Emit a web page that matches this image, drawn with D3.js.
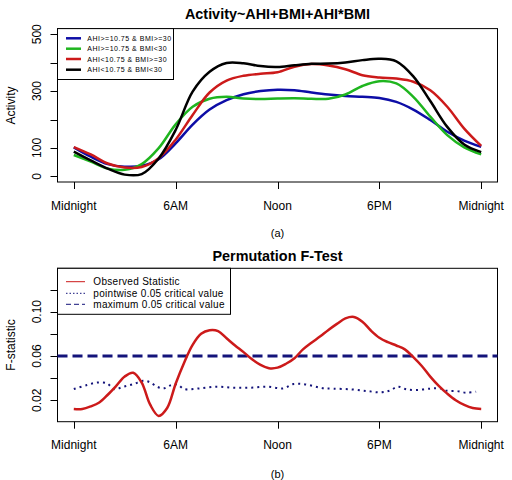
<!DOCTYPE html>
<html>
<head>
<meta charset="utf-8">
<script src="https://cdn.jsdelivr.net/npm/d3@7"></script>
<style>
html,body{margin:0;padding:0;background:#fff;}
svg{display:block;font-family:"Liberation Sans",Arial,sans-serif;}
</style>
</head>
<body>
<svg id="chart" width="512" height="480"></svg>
<script>
// ---------- DATA ----------
const hours = [0,1,2,3,4,5,6,7,8,9,10,11,12,13,14,15,16,17,18,19,20,21,22,23,24];
const xTickHours = [0,6,12,18,24];
const xTickLabels = ["Midnight","6AM","Noon","6PM","Midnight"];

const seriesNames = ["AHI>=10.75 & BMI>=30","AHI>=10.75 & BMI<30","AHI<10.75 & BMI>=30","AHI<10.75 & BMI<30"];
const blueVals  = [102,69,43,34,37,60,116,182,235,268,289,300,305,303,295,288,283,280,276,262,235,198,157,126,104];
const greenVals = [75,52,27,23,43,99,183,245,273,280,274,272,274,275,273,273,288,318,335,327,280,210,145,102,77];
const redVals   = [103,77,45,31,33,64,129,216,295,337,354,361,366,386,395,390,377,356,348,344,333,303,245,168,107];
const blackVals = [87,56,27,6,8,63,163,298,368,399,398,388,385,391,396,397,401,409,414,405,352,265,174,112,85];
const topYTicks = [0,100,200,300,400,500];
const topYLabels = ["0","100","","300","","500"];

const fineHours = [0,0.5,1,1.5,2,2.5,3,3.5,4,4.5,5,5.5,6,6.5,7,7.5,8,8.5,9,9.5,10,10.5,11,11.5,12,12.5,13,13.5,14,14.5,15,15.5,16,16.5,17,17.5,18,18.5,19,19.5,20,20.5,21,21.5,22,22.5,23,23.5,24];
const observedF = [0.0122,0.0122,0.0145,0.018,0.025,0.033,0.0415,0.0448,0.036,0.016,0.0059,0.013,0.035,0.054,0.070,0.080,0.0833,0.0825,0.076,0.0695,0.0635,0.057,0.052,0.049,0.0495,0.053,0.058,0.066,0.072,0.0775,0.0835,0.089,0.094,0.0953,0.091,0.083,0.0765,0.0725,0.0695,0.066,0.059,0.051,0.0414,0.033,0.026,0.020,0.0158,0.013,0.0122];
const pointHours = [0,0.78,1.37,1.96,2.35,2.94,3.53,4.1,4.5,4.9,5.3,5.7,6.1,6.5,7.45,8.43,9.4,10.4,11.4,12.35,12.94,13.5,14.1,14.7,15.3,16.3,17.25,18.04,18.6,19.1,19.6,20.2,21,21.57,21.96,22.55,23.1,23.7];
const pointwiseCrit = [0.0302,0.0338,0.036,0.0353,0.0302,0.0323,0.0347,0.0377,0.0362,0.0323,0.0308,0.0335,0.0344,0.0302,0.0308,0.0323,0.0314,0.0314,0.0323,0.0308,0.0347,0.0347,0.0329,0.0308,0.0305,0.0299,0.0284,0.0272,0.0287,0.0323,0.0299,0.0293,0.0305,0.0308,0.0287,0.0284,0.0269,0.0278];
const maxCrit = 0.06;
const botYTicks = [0.02,0.04,0.06,0.08,0.10,0.12];
const botYLabels = ["0.02","","0.06","","0.10",""];
const botLegend = ["Observed Statistic","pointwise 0.05 critical value","maximum 0.05 critical value"];

// ---------- STYLE ----------
const colBlue = "#0d0da6", colGreen = "#1fb51f", colRed = "#cc1a1a", colBlack = "#000000", colNavy = "#13137a";
const svg = d3.select("#chart");
const L = 57.5, R = 497.5;

const x = d3.scaleLinear().domain([-0.96, 24.96]).range([L, R]);

function drawAxes(g, y, yTicks, yLabels, top, bottom, labelBase, yTitle, yTitleCenter) {
  g.append("rect").attr("x", L).attr("y", top).attr("width", R - L).attr("height", bottom - top)
    .attr("fill", "none").attr("stroke", "#000").attr("stroke-width", 1);
  xTickHours.forEach((h, i) => {
    const px = Math.round(x(h)) + 0.5;
    g.append("line").attr("x1", px).attr("x2", px).attr("y1", bottom).attr("y2", bottom + 7)
      .attr("stroke", "#000");
    g.append("text").attr("x", x(h)).attr("y", labelBase).attr("text-anchor", "middle")
      .attr("font-size", 12).text(xTickLabels[i]);
  });
  yTicks.forEach((v, i) => {
    const py = Math.round(y(v)) + 0.5;
    g.append("line").attr("x1", L - 7).attr("x2", L).attr("y1", py).attr("y2", py).attr("stroke", "#000");
    if (yLabels[i]) {
      g.append("text").attr("transform", `translate(40.5,${y(v)}) rotate(-90)`)
        .attr("text-anchor", "middle").attr("font-size", 12).text(yLabels[i]);
    }
  });
  g.append("text").attr("transform", `translate(14.5,${yTitleCenter}) rotate(-90)`)
    .attr("text-anchor", "middle").attr("font-size", 12).text(yTitle);
}

// ---------- TOP PANEL ----------
const topTop = 28.6, topBot = 182;
const yTop = d3.scaleLinear().domain([-20, 520]).range([topBot, topTop]);
const gTop = svg.append("g");
drawAxes(gTop, yTop, topYTicks, topYLabels, topTop, topBot, 209.5, "Activity", 105.5);
svg.append("text").attr("x", (L + R) / 2).attr("y", 18.5).attr("text-anchor", "middle")
  .attr("font-size", 14.4).attr("font-weight", "bold").text("Activity~AHI+BMI+AHI*BMI");

const lineTop = d3.line().x((d, i) => x(hours[i])).y(d => yTop(d)).curve(d3.curveCatmullRom.alpha(0.5));
const topSeries = [[blueVals, colBlue], [greenVals, colGreen], [redVals, colRed], [blackVals, colBlack]];
topSeries.forEach(([vals, c]) => {
  gTop.append("path").attr("d", lineTop(vals)).attr("fill", "none").attr("stroke", c)
    .attr("stroke-width", 2.5).attr("stroke-linejoin", "round");
});
const lgTop = svg.append("g");
lgTop.append("rect").attr("x", L).attr("y", topTop).attr("width", 173.5 - L).attr("height", 79.5 - topTop)
  .attr("fill", "#fff").attr("stroke", "#000");
const topLegY = [38.3, 48.7, 59, 69.7];
topSeries.forEach(([vals, c], i) => {
  lgTop.append("line").attr("x1", 66).attr("x2", 81).attr("y1", topLegY[i]).attr("y2", topLegY[i])
    .attr("stroke", c).attr("stroke-width", 2.5);
  lgTop.append("text").attr("x", 87.3).attr("y", topLegY[i] + 2.6).attr("font-size", 7)
    .attr("letter-spacing", 0.5).text(seriesNames[i]);
});

// ---------- BOTTOM PANEL ----------
const botTop = 268.3, botBot = 421.7;
const yBot = d3.scaleLinear().domain([0.02, 0.06]).range([400.3, 356]);
const gBot = svg.append("g");
drawAxes(gBot, yBot, botYTicks, botYLabels, botTop, botBot, 449, "F-statistic", 345);
svg.append("text").attr("x", (L + R) / 2).attr("y", 260.5).attr("text-anchor", "middle")
  .attr("font-size", 14.4).attr("font-weight", "bold").text("Permutation F-Test");

const lineObs = d3.line().x((d, i) => x(fineHours[i])).y(d => yBot(d)).curve(d3.curveCatmullRom.alpha(0.5));
const linePw = d3.line().x((d, i) => x(pointHours[i])).y(d => yBot(d)).curve(d3.curveCatmullRom.alpha(0.5));
gBot.append("path").attr("d", linePw(pointwiseCrit)).attr("fill", "none").attr("stroke", colNavy)
  .attr("stroke-width", 2).attr("stroke-dasharray", "2,4");
gBot.append("line").attr("x1", L).attr("x2", R).attr("y1", yBot(maxCrit)).attr("y2", yBot(maxCrit))
  .attr("stroke", colNavy).attr("stroke-width", 3).attr("stroke-dasharray", "10,5");
gBot.append("path").attr("d", lineObs(observedF)).attr("fill", "none").attr("stroke", colRed)
  .attr("stroke-width", 2.5).attr("stroke-linejoin", "round");

const lgBot = svg.append("g");
lgBot.append("rect").attr("x", L).attr("y", botTop).attr("width", 230.5 - L).attr("height", 314.3 - botTop)
  .attr("fill", "#fff").attr("stroke", "#000");
const botLegY = [281.7, 293.3, 304.3];
const botStyles = [[colRed, null], [colNavy, "1.5,2"], [colNavy, "5,3"]];
botStyles.forEach(([c, dash], i) => {
  const ln = lgBot.append("line").attr("x1", 66).attr("x2", 85).attr("y1", botLegY[i]).attr("y2", botLegY[i])
    .attr("stroke", c).attr("stroke-width", 1);
  if (dash) ln.attr("stroke-dasharray", dash);
  lgBot.append("text").attr("x", 93.3).attr("y", botLegY[i] + 3.6).attr("font-size", 10)
    .attr("letter-spacing", 0.3).text(botLegend[i]);
});

svg.append("text").attr("x", (L + R) / 2).attr("y", 237).attr("text-anchor", "middle").attr("font-size", 11).text("(a)");
svg.append("text").attr("x", (L + R) / 2).attr("y", 477.5).attr("text-anchor", "middle").attr("font-size", 11).text("(b)");
</script>
</body>
</html>
